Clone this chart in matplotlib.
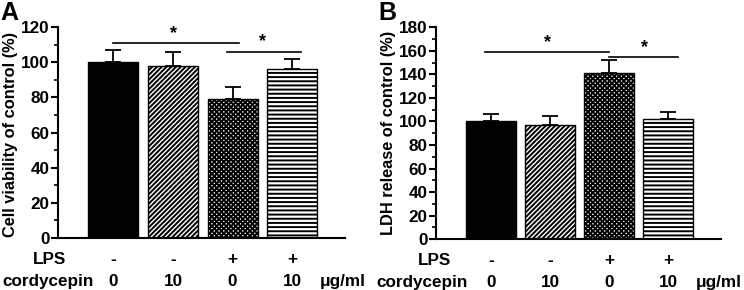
import numpy as np
import matplotlib
matplotlib.use("Agg")
import matplotlib.pyplot as plt
from matplotlib.ticker import MultipleLocator

plt.rcParams['font.family'] = ['Liberation Sans', 'DejaVu Sans']
plt.rcParams['font.weight'] = 'bold'
plt.rcParams['hatch.linewidth'] = 1.4

# data
lps = ['-', '-', '+', '+']
cordycepin = ['0', '10', '0', '10']
hatches = ['', '///////', 'xxxxxxx', '----']
colors = ['black', 'white', 'white', 'white']

viability = [100, 98, 79, 96]
viability_err = [7, 8, 7, 6]
ldh = [100, 97, 141, 102]
ldh_err = [6, 8, 11, 6]

panels = [
    dict(letter='A', vals=viability, err=viability_err, ylabel='Cell viability of control (%)',
         ylim=120, step=20, rect=[0.078, 0.179, 0.386, 0.728], label_y=0.49,
         sig=[(0.0, 2.1, 111, 1.0), (1.9, 3.15, 106, 2.5)], lps_x=-1.08, cord_x=-1.1),
    dict(letter='B', vals=ldh, err=ldh_err, ylabel='LDH release of control (%)',
         ylim=180, step=20, rect=[0.586, 0.175, 0.383, 0.731], label_y=0.5,
         sig=[(-0.1, 2.0, 159, 0.95), (2.0, 3.16, 154.5, 2.6)], lps_x=-0.96, cord_x=-1.16),
]

fig = plt.figure(figsize=(7.44, 2.9), dpi=100)
x = np.arange(4)
fs = 12.3

for p in panels:
    ax = fig.add_axes(p['rect'])
    ax.bar(x, p['vals'], width=0.84, color=colors, edgecolor='black',
           linewidth=1.0, hatch=hatches, zorder=2)
    ax.errorbar(x, p['vals'], yerr=[np.zeros(4), p['err']], fmt='none',
                ecolor='black', elinewidth=1.3, capsize=6, capthick=1.3, zorder=3)
    ax.set_xlim(-0.93, 3.89)
    ax.set_ylim(0, p['ylim'])
    ax.yaxis.set_major_locator(MultipleLocator(p['step']))
    ax.yaxis.set_minor_locator(MultipleLocator(p['step'] / 2))
    ax.spines['top'].set_visible(False)
    ax.spines['right'].set_visible(False)
    ax.spines['left'].set_linewidth(1.5)
    ax.spines['bottom'].set_linewidth(1.5)
    ax.set_xticks([])
    ax.tick_params(axis='y', which='major', length=5, width=1.5, labelsize=fs, pad=1)
    ax.tick_params(axis='y', which='minor', length=3, width=1.2)
    for lab in ax.get_yticklabels():
        lab.set_fontweight('bold')
    ax.set_ylabel(p['ylabel'], fontsize=11.8, fontweight='bold', labelpad=2)
    ax.yaxis.label.set_y(p['label_y'])

    # significance bars
    for x0, x1, y, sx in p['sig']:
        ax.plot([x0, x1], [y, y], color='black', lw=1.2, clip_on=False)
        ax.text(sx, y + p['ylim'] * 0.005, '*', ha='center', va='bottom',
                fontsize=13, fontweight='bold')

    # treatment labels
    trans = ax.get_xaxis_transform()
    ax.text(p['lps_x'], -0.1, 'LPS', transform=trans, ha='center', va='center',
            fontsize=fs, fontweight='bold')
    ax.text(p['cord_x'], -0.205, 'cordycepin', transform=trans, ha='center',
            va='center', fontsize=fs, fontweight='bold')
    for i in range(4):
        ax.text(x[i], -0.1, lps[i], transform=trans, ha='center', va='center',
                fontsize=fs, fontweight='bold')
        ax.text(x[i], -0.205, cordycepin[i], transform=trans, ha='center', va='center',
                fontsize=fs, fontweight='bold')
    ax.text(3.85, -0.205, 'μg/ml', transform=trans, ha='center', va='center',
            fontsize=fs, fontweight='bold')

    # panel letter
    lx = p['rect'][0] - 0.078
    fig.text(lx, 0.998, p['letter'], ha='left', va='top', fontsize=18, fontweight='bold')

fig.savefig('out.png', dpi=100)
